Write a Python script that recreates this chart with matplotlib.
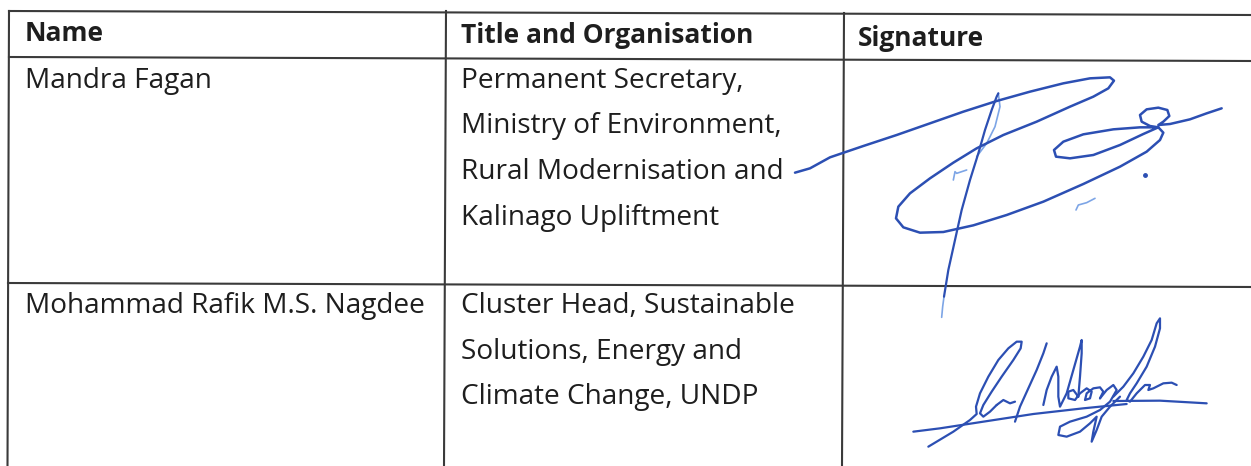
import matplotlib
matplotlib.use('Agg')
import matplotlib.pyplot as plt
from matplotlib.transforms import Affine2D

plt.rcParams['font.family'] = ['Open Sans', 'DejaVu Sans']

# table grid (image pixel coords, scan is slightly tilted)
h_lines = [((9, 11), (1251, 15)), ((9, 57), (1251, 61)), ((8, 283), (1251, 287))]
v_lines = [((9, 11), (7.5, 466)), ((446, 11), (444, 466)), ((844, 13), (842, 466))]

headers = ['Name', 'Title and Organisation', 'Signature']
header_x = [25, 461, 858]
header_y = [41, 43, 46]

names = ['Mandra Fagan', 'Mohammad Rafik M.S. Nagdee']
name_y = [88, 313]
titles = [
    ['Permanent Secretary,', 'Ministry of Environment,',
     'Rural Modernisation and', 'Kalinago Upliftment'],
    ['Cluster Head, Sustainable', 'Solutions, Energy and',
     'Climate Change, UNDP'],
]
title_y0 = [88, 313]
line_step = 45.5

# signature strokes, traced in 3x local coords of each signature box
sig1_main = [(-105, 398), (-60, 385), (0, 352), (100, 318), (200, 285), (300, 250),
             (400, 215), (500, 183), (600, 155), (700, 130), (780, 115), (840, 112),
             (852, 122), (835, 145), (790, 170), (720, 200), (620, 245), (520, 285),
             (440, 325), (370, 368), (300, 415), (240, 460), (205, 500), (198, 535),
             (220, 562), (270, 578), (340, 576), (430, 556), (530, 525), (640, 485),
             (760, 432), (870, 380), (950, 335), (990, 300), (1000, 278), (985, 262),
             (930, 262), (850, 268), (760, 283), (700, 305), (672, 330), (678, 350),
             (720, 355), (790, 345), (870, 315), (940, 282), (985, 262), (960, 258),
             (935, 245), (930, 225), (950, 208), (985, 203), (1012, 210), (1018, 228),
             (1000, 245), (985, 255), (1020, 252), (1080, 238), (1130, 220), (1175, 205)]
sig1_stem = [(505, 160), (500, 170), (485, 210), (465, 270), (445, 340), (420, 420),
             (395, 510), (375, 600), (355, 690), (342, 770)]
sig1_light = [[(505, 160), (510, 200), (495, 260), (470, 310), (440, 350)],
              [(370, 420), (375, 395), (380, 400), (395, 395), (410, 390)],
              [(738, 510), (745, 495), (770, 488), (795, 475)],
              [(342, 770), (338, 800), (335, 832)]]
sig1_dot = (945, 405)

sig2_strokes = [
    [(40, 365), (120, 355), (250, 335), (400, 312), (550, 295), (680, 282)],
    [(640, 273), (780, 272), (920, 280)],
    [(85, 410), (110, 395), (160, 365), (210, 330), (230, 312), (228, 290),
     (240, 250), (265, 200), (295, 150), (325, 115), (350, 95), (365, 95),
     (362, 115), (340, 150), (305, 200), (275, 245), (250, 285), (240, 310),
     (250, 320), (270, 305), (290, 285)],
    [(290, 285), (310, 270), (330, 280), (345, 275)],
    [(440, 100), (430, 130), (410, 180), (385, 235), (360, 290), (345, 335)],
    [(430, 285), (440, 240), (455, 200), (470, 170), (475, 200), (475, 260),
     (480, 290), (500, 250), (520, 180), (540, 110), (545, 90), (545, 130),
     (540, 200), (535, 260)],
    [(535, 260), (520, 240), (505, 245), (505, 265), (525, 270), (540, 250),
     (560, 235), (575, 245), (570, 265), (555, 270), (560, 250), (580, 235),
     (600, 232), (610, 245), (600, 265)],
    [(600, 265), (620, 240), (640, 225), (650, 240), (630, 275), (600, 300),
     (560, 320), (510, 335), (480, 350), (475, 375), (500, 380), (540, 365),
     (570, 340), (590, 320), (580, 365), (575, 395), (590, 360), (605, 320),
     (630, 290), (660, 260)],
    [(640, 260), (670, 230), (700, 190), (730, 140), (755, 90), (770, 40),
     (780, 25), (780, 55), (765, 110), (740, 170), (710, 220), (690, 250),
     (680, 270), (690, 275), (710, 250), (735, 225), (750, 225), (745, 240),
     (760, 235), (790, 220), (815, 218), (830, 225)],
]

ink = '#2c4fb3'
ink_light = '#7da5e6'
text_color = '#1e1e1e'
grid_color = '#3a3a3a'


def draw_stroke(ax, pts, tr, color, lw):
    xs = [p[0] for p in pts]
    ys = [p[1] for p in pts]
    ax.plot(xs, ys, color=color, linewidth=lw, transform=tr,
            solid_joinstyle='round', solid_capstyle='round')


fig = plt.figure(figsize=(12.51, 4.66), dpi=100)
ax = fig.add_axes([0, 0, 1, 1])
ax.set_xlim(0, 1251)
ax.set_ylim(466, 0)
ax.axis('off')

for (x0, y0), (x1, y1) in h_lines + v_lines:
    ax.plot([x0, x1], [y0, y1], color=grid_color, linewidth=1.5)

fs = 20.2
for txt, x, y in zip(headers, header_x, header_y):
    ax.text(x, y, txt, fontsize=19, fontweight='bold', color=text_color, va='baseline')

for i, name in enumerate(names):
    ax.text(25, name_y[i], name, fontsize=fs, color=text_color, va='baseline')
    for j, line in enumerate(titles[i]):
        ax.text(461, title_y0[i] + j * line_step, line, fontsize=fs,
                color=text_color, va='baseline')

# signatures
tr1 = Affine2D().scale(1 / 3).translate(830, 40) + ax.transData
for pts in sig1_light:
    draw_stroke(ax, pts, tr1, ink_light, 1.2)
draw_stroke(ax, sig1_main, tr1, ink, 1.8)
draw_stroke(ax, sig1_stem, tr1, ink, 1.6)
ax.plot([sig1_dot[0]], [sig1_dot[1]], 'o', color=ink, markersize=2.5, transform=tr1)

tr2 = Affine2D().scale(1 / 3).translate(900, 310) + ax.transData
for pts in sig2_strokes:
    draw_stroke(ax, pts, tr2, ink, 1.6)

plt.savefig('out.png', dpi=100)
plt.close()
